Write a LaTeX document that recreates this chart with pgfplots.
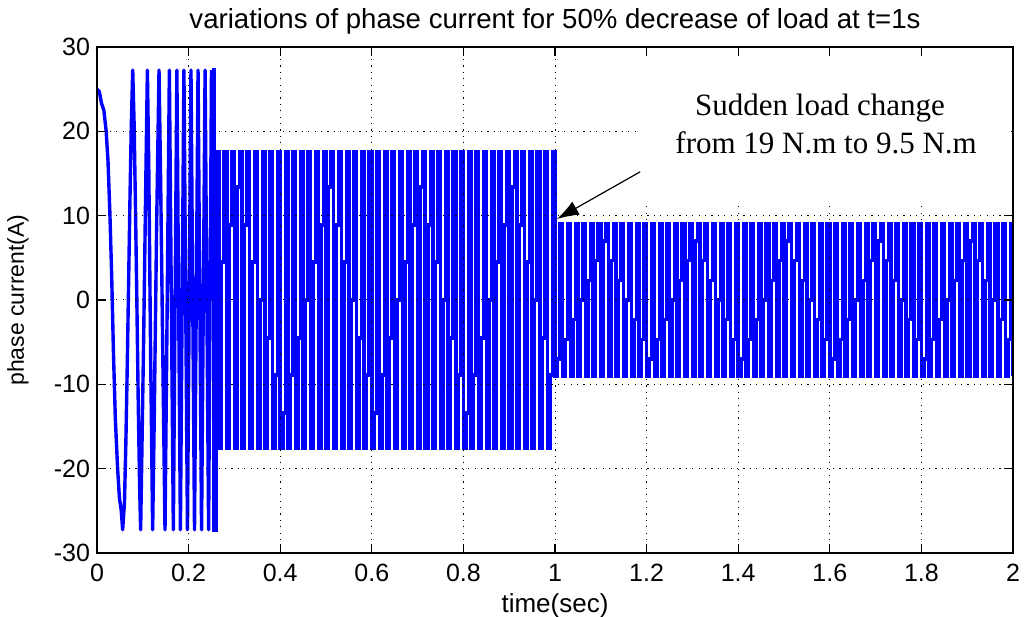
\documentclass[border=0pt]{standalone}
\usepackage{pgfplots}
\pgfplotsset{compat=1.18}
\usepackage{fontspec}
\setmainfont{Liberation Sans}
\newfontfamily\annfont{Liberation Serif}
\usetikzlibrary{arrows.meta}
\begin{document}
\begin{tikzpicture}
\begin{axis}[name=ax, scale only axis, width=458pt, height=253pt,
  xmin=0, xmax=2, ymin=-30, ymax=30,
  xtick={0,0.2,0.4,0.6,0.8,1,1.2,1.4,1.6,1.8,2},
  xticklabels={0,0.2,0.4,0.6,0.8,1,1.2,1.4,1.6,1.8,2},
  ytick={-30,-20,-10,0,10,20,30},
  yticklabels={-30,-20,-10,0,10,20,30},
  tick label style={font=\fontsize{12.5}{14}\selectfont},
  xticklabel style={anchor=base, yshift=-14.5pt},
  grid=major,
  grid style={black, line width=0.5pt, dash pattern=on 0.6pt off 2.6pt},
  axis line style={black, line width=0.7pt},
  tick style={black, line width=0.6pt},
  tick align=inside, major tick length=4.5pt,
  axis on top,
  title={variations of phase current for 50\% decrease of load at t=1s},
  title style={font=\fontsize{13.8}{15}\selectfont, anchor=base, at={(axis description cs:0.5,1.0138)}},
  xlabel={time(sec)},
  xlabel style={font=\fontsize{13}{15}\selectfont, anchor=base, at={(axis description cs:0.5,-0.1185)}},
  ylabel={phase current(A)},
  ylabel style={font=\fontsize{11.5}{13}\selectfont, anchor=center, at={(axis description cs:-0.0862,0.5)}},
]
% start-up transient
\addplot[color=blue, line width=1.7pt, line join=round, mark=none] coordinates {
(0,25.0)(0.005,24.7)(0.010,23.3)(0.015,22.5)(0.020,20.0)(0.024,16.5)(0.028,10.5)(0.032,3.0)(0.036,-6.4)(0.040,-14.0)(0.045,-20.0)(0.049,-23.5)(0.053,-25.0)(0.056,-27.25)
(0.060,-24.0)(0.063,-17.0)(0.066,-8.0)(0.069,2.0)(0.072,12.0)(0.075,21.0)(0.078,27.25)
(0.081,21.0)(0.084,11.0)(0.087,0.0)(0.090,-12.0)(0.093,-22.0)(0.0953,-27.25)
(0.098,-18.0)(0.102,-4.0)(0.106,12.0)(0.110,27.25)
(0.113,16.0)(0.117,-6.0)(0.1215,-27.25)
(0.125,-14.0)(0.130,8.0)(0.1354,27.25)
(0.139,14.0)(0.144,-8.0)(0.1485,-27.25)
(0.153,-2.0)(0.158,27.25)(0.162,2.0)(0.1667,-27.25)
(0.1744,27.25)(0.1821,-27.25)(0.1898,27.25)(0.1975,-27.25)(0.2052,27.25)(0.2129,-27.25)(0.2206,27.25)(0.2283,-27.25)(0.2360,27.25)(0.2437,-27.25)(0.2500,27.25)
};
% steady state, sampled strokes
\addplot[color=blue, line width=1.75pt, const plot, mark=none] coordinates {
(0.2500,27.25)(0.2556,-27.25)(0.2611,17.55)(0.2667,-17.55)(0.2722,4.5)(0.2778,17.55)(0.2833,-17.55)(0.2889,8.9)(0.2944,17.55)
(0.3000,-17.55)(0.3056,13.4)(0.3111,17.55)(0.3167,-17.55)(0.3222,8.9)(0.3278,17.55)(0.3333,-17.55)(0.3389,4.5)(0.3444,17.55)
(0.3500,-17.55)(0.3556,0)(0.3611,17.55)(0.3667,-17.55)(0.3722,-4.5)(0.3778,17.55)(0.3833,-17.55)(0.3889,-8.9)(0.3944,17.55)
(0.4000,-17.55)(0.4056,-13.4)(0.4111,17.55)(0.4167,-17.55)(0.4222,-8.9)(0.4278,17.55)(0.4333,-17.55)(0.4389,-4.5)(0.4444,17.55)
(0.4500,-17.55)(0.4556,0)(0.4611,17.55)(0.4667,-17.55)(0.4722,4.5)(0.4778,17.55)(0.4833,-17.55)(0.4889,8.9)(0.4944,17.55)
(0.5000,-17.55)(0.5056,13.4)(0.5111,17.55)(0.5167,-17.55)(0.5222,8.9)(0.5278,17.55)(0.5333,-17.55)(0.5389,4.5)(0.5444,17.55)
(0.5500,-17.55)(0.5556,0)(0.5611,17.55)(0.5667,-17.55)(0.5722,-4.5)(0.5778,17.55)(0.5833,-17.55)(0.5889,-8.9)(0.5944,17.55)
(0.6000,-17.55)(0.6056,-13.4)(0.6111,17.55)(0.6167,-17.55)(0.6222,-8.9)(0.6278,17.55)(0.6333,-17.55)(0.6389,-4.5)(0.6444,17.55)
(0.6500,-17.55)(0.6556,0)(0.6611,17.55)(0.6667,-17.55)(0.6722,4.5)(0.6778,17.55)(0.6833,-17.55)(0.6889,8.9)(0.6944,17.55)
(0.7000,-17.55)(0.7056,13.4)(0.7111,17.55)(0.7167,-17.55)(0.7222,8.9)(0.7278,17.55)(0.7333,-17.55)(0.7389,4.5)(0.7444,17.55)
(0.7500,-17.55)(0.7556,0)(0.7611,17.55)(0.7667,-17.55)(0.7722,-4.5)(0.7778,17.55)(0.7833,-17.55)(0.7889,-8.9)(0.7944,17.55)
(0.8000,-17.55)(0.8056,-13.4)(0.8111,17.55)(0.8167,-17.55)(0.8222,-8.9)(0.8278,17.55)(0.8333,-17.55)(0.8389,-4.5)(0.8444,17.55)
(0.8500,-17.55)(0.8556,0)(0.8611,17.55)(0.8667,-17.55)(0.8722,4.5)(0.8778,17.55)(0.8833,-17.55)(0.8889,8.9)(0.8944,17.55)
(0.9000,-17.55)(0.9056,13.4)(0.9111,17.55)(0.9167,-17.55)(0.9222,8.9)(0.9278,17.55)(0.9333,-17.55)(0.9389,4.5)(0.9444,17.55)
(0.9500,-17.55)(0.9556,0)(0.9611,17.55)(0.9667,-17.55)(0.9722,-4.5)(0.9778,17.55)(0.9833,-17.55)(0.9889,-8.9)(0.9944,17.55)
(1.0000,-9.05)(1.0056,-7.0)(1.0111,9.05)(1.0167,-9.05)(1.0222,-4.7)(1.0278,9.05)(1.0333,-9.05)(1.0389,-2.3)(1.0444,9.05)
(1.0500,-9.05)(1.0556,0)(1.0611,9.05)(1.0667,-9.05)(1.0722,2.3)(1.0778,9.05)(1.0833,-9.05)(1.0889,4.7)(1.0944,9.05)
(1.1000,-9.05)(1.1056,7.0)(1.1111,9.05)(1.1167,-9.05)(1.1222,4.7)(1.1278,9.05)(1.1333,-9.05)(1.1389,2.3)(1.1444,9.05)
(1.1500,-9.05)(1.1556,0)(1.1611,9.05)(1.1667,-9.05)(1.1722,-2.3)(1.1778,9.05)(1.1833,-9.05)(1.1889,-4.7)(1.1944,9.05)
(1.2000,-9.05)(1.2056,-7.0)(1.2111,9.05)(1.2167,-9.05)(1.2222,-4.7)(1.2278,9.05)(1.2333,-9.05)(1.2389,-2.3)(1.2444,9.05)
(1.2500,-9.05)(1.2556,0)(1.2611,9.05)(1.2667,-9.05)(1.2722,2.3)(1.2778,9.05)(1.2833,-9.05)(1.2889,4.7)(1.2944,9.05)
(1.3000,-9.05)(1.3056,7.0)(1.3111,9.05)(1.3167,-9.05)(1.3222,4.7)(1.3278,9.05)(1.3333,-9.05)(1.3389,2.3)(1.3444,9.05)
(1.3500,-9.05)(1.3556,0)(1.3611,9.05)(1.3667,-9.05)(1.3722,-2.3)(1.3778,9.05)(1.3833,-9.05)(1.3889,-4.7)(1.3944,9.05)
(1.4000,-9.05)(1.4056,-7.0)(1.4111,9.05)(1.4167,-9.05)(1.4222,-4.7)(1.4278,9.05)(1.4333,-9.05)(1.4389,-2.3)(1.4444,9.05)
(1.4500,-9.05)(1.4556,0)(1.4611,9.05)(1.4667,-9.05)(1.4722,2.3)(1.4778,9.05)(1.4833,-9.05)(1.4889,4.7)(1.4944,9.05)
(1.5000,-9.05)(1.5056,7.0)(1.5111,9.05)(1.5167,-9.05)(1.5222,4.7)(1.5278,9.05)(1.5333,-9.05)(1.5389,2.3)(1.5444,9.05)
(1.5500,-9.05)(1.5556,0)(1.5611,9.05)(1.5667,-9.05)(1.5722,-2.3)(1.5778,9.05)(1.5833,-9.05)(1.5889,-4.7)(1.5944,9.05)
(1.6000,-9.05)(1.6056,-7.0)(1.6111,9.05)(1.6167,-9.05)(1.6222,-4.7)(1.6278,9.05)(1.6333,-9.05)(1.6389,-2.3)(1.6444,9.05)
(1.6500,-9.05)(1.6556,0)(1.6611,9.05)(1.6667,-9.05)(1.6722,2.3)(1.6778,9.05)(1.6833,-9.05)(1.6889,4.7)(1.6944,9.05)
(1.7000,-9.05)(1.7056,7.0)(1.7111,9.05)(1.7167,-9.05)(1.7222,4.7)(1.7278,9.05)(1.7333,-9.05)(1.7389,2.3)(1.7444,9.05)
(1.7500,-9.05)(1.7556,0)(1.7611,9.05)(1.7667,-9.05)(1.7722,-2.3)(1.7778,9.05)(1.7833,-9.05)(1.7889,-4.7)(1.7944,9.05)
(1.8000,-9.05)(1.8056,-7.0)(1.8111,9.05)(1.8167,-9.05)(1.8222,-4.7)(1.8278,9.05)(1.8333,-9.05)(1.8389,-2.3)(1.8444,9.05)
(1.8500,-9.05)(1.8556,0)(1.8611,9.05)(1.8667,-9.05)(1.8722,2.3)(1.8778,9.05)(1.8833,-9.05)(1.8889,4.7)(1.8944,9.05)
(1.9000,-9.05)(1.9056,7.0)(1.9111,9.05)(1.9167,-9.05)(1.9222,4.7)(1.9278,9.05)(1.9333,-9.05)(1.9389,2.3)(1.9444,9.05)
(1.9500,-9.05)(1.9556,0)(1.9611,9.05)(1.9667,-9.05)(1.9722,-2.3)(1.9778,9.05)(1.9833,-9.05)(1.9889,-4.7)(1.9944,9.05)
(2.0000,-9.05)
};
\coordinate (bsw) at (axis cs:1.18,11.6);
\coordinate (bne) at (axis cs:1.995,28.6);
\coordinate (atail) at (axis cs:1.186,15.2);
\coordinate (ahead) at (axis cs:1.004,9.6);
\coordinate (tA) at (axis cs:1.5786,22.8);
\coordinate (tB) at (axis cs:1.592,18.6);
\end{axis}
\fill[white] (bsw) rectangle (bne);
\draw[black, line width=0.6pt, -{Latex[length=11pt,width=7.5pt]}] (atail) -- (ahead);
\node[font=\annfont\fontsize{15.5}{17}\selectfont, inner sep=0pt] at (tA) {Sudden load change};
\node[font=\annfont\fontsize{15.5}{17}\selectfont, inner sep=0pt] at (tB) {from 19 N.m to 9.5 N.m};
\pgfresetboundingbox
\path[use as bounding box] ([xshift=-48.5pt,yshift=-32pt]ax.south west) rectangle ([xshift=5.5pt,yshift=23.5pt]ax.north east);
\end{tikzpicture}
\end{document}
